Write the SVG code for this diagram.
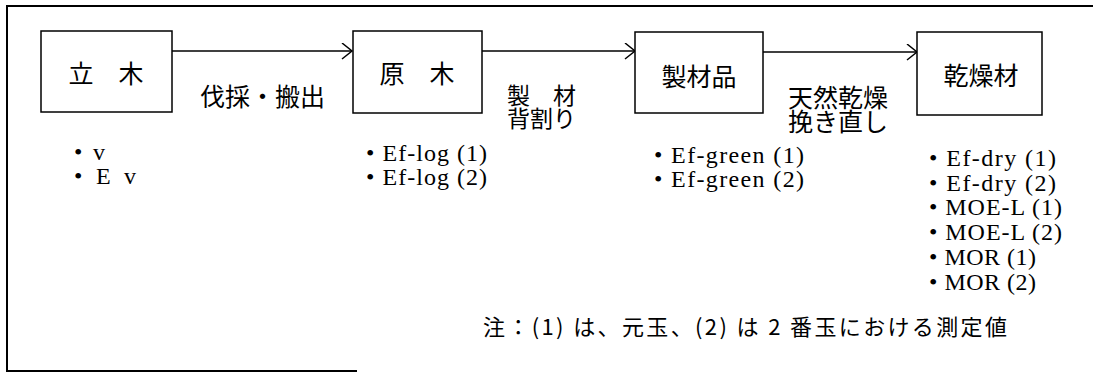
<svg xmlns="http://www.w3.org/2000/svg" width="1093" height="374" viewBox="0 0 1093 374">
<defs>
<style>
.box{fill:#fff;stroke:#000;stroke-width:1.5}
.frame{fill:none;stroke:#000;stroke-width:2}
.conn{fill:none;stroke:#000;stroke-width:1.5}
.jp{font-family:"Noto Sans CJK JP","Noto Sans CJK SC",sans-serif;fill:#000}
.lbl{font-size:25px}
.lat{font-family:"Liberation Serif","DejaVu Serif",serif;font-size:24px;fill:#000}
</style>
<marker id="arr" markerWidth="14" markerHeight="18" refX="11" refY="8" orient="auto" markerUnits="userSpaceOnUse">
<path d="M1,0 L11,8 L1,16" fill="none" stroke="#000" stroke-width="1.5"/>
</marker>
</defs>
<rect width="1093" height="374" fill="#fff"/>
<g id="frame">
<path class="frame" d="M1093,6 L7,6 L7,371 L357,371"/>
</g>
<g id="connectors">
<line class="conn" x1="172" y1="51" x2="352" y2="51" marker-end="url(#arr)"/>
<line class="conn" x1="482" y1="51" x2="635" y2="51" marker-end="url(#arr)"/>
<line class="conn" x1="763" y1="52" x2="917" y2="52" marker-end="url(#arr)"/>
<text class="jp" font-size="25" x="200" y="106">伐採・搬出</text>
<text class="jp" font-size="23" x="507" y="104">製　材</text>
<text class="jp" font-size="23" x="507" y="127">背割り</text>
<text class="jp" font-size="25" x="788" y="107">天然乾燥</text>
<text class="jp" font-size="25" x="788" y="131">挽き直し</text>
</g>
<g id="node-ritsuboku">
<rect class="box" x="41" y="31" width="131" height="81"/>
<text class="jp lbl" x="106" y="83" text-anchor="middle">立　木</text>
<text class="lat" font-size="26" x="74" y="160">•<tspan x="93">v</tspan></text>
<text class="lat" font-size="26" x="74" y="184">•<tspan x="96">E</tspan><tspan x="124">v</tspan></text>
</g>
<g id="node-genboku">
<rect class="box" x="353" y="31" width="129" height="82"/>
<text class="jp lbl" x="417" y="83" text-anchor="middle">原　木</text>
<text class="lat" x="366" y="161" textLength="121">• Ef-log (1)</text>
<text class="lat" x="366" y="185" textLength="121">• Ef-log (2)</text>
</g>
<g id="node-seizaihin">
<rect class="box" x="635" y="32" width="128" height="81"/>
<text class="jp lbl" x="699" y="86" text-anchor="middle">製材品</text>
<text class="lat" x="654" y="163" textLength="150">• Ef-green (1)</text>
<text class="lat" x="654" y="187" textLength="150">• Ef-green (2)</text>
</g>
<g id="node-kansouzai">
<rect class="box" x="917" y="32" width="125" height="83"/>
<text class="jp lbl" x="981" y="85" text-anchor="middle">乾燥材</text>
<text class="lat" x="929" y="166" textLength="127">• Ef-dry (1)</text>
<text class="lat" x="929" y="191" textLength="127">• Ef-dry (2)</text>
<text class="lat" x="929" y="215" textLength="133">• MOE-L (1)</text>
<text class="lat" x="929" y="240" textLength="133">• MOE-L (2)</text>
<text class="lat" x="929" y="265" textLength="107">• MOR (1)</text>
<text class="lat" x="929" y="290" textLength="107">• MOR (2)</text>
</g>
<g id="note">
<text class="jp" font-size="22" x="483" y="335" textLength="524">注：(1) は、元玉、(2) は 2 番玉における測定値</text>
</g>
</svg>
